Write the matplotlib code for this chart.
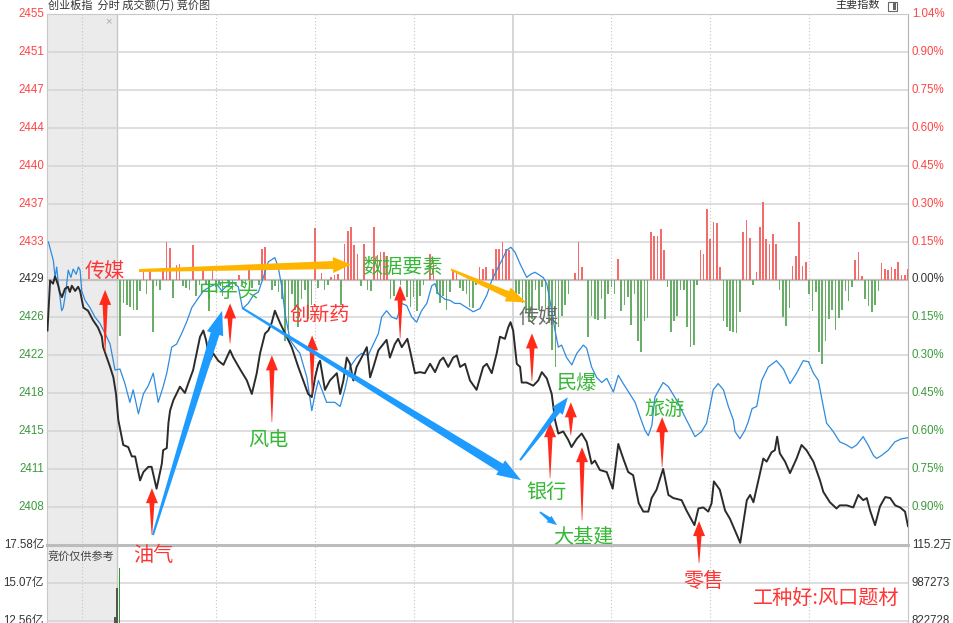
import numpy as np
import matplotlib
matplotlib.use("Agg")
import matplotlib.pyplot as plt
from matplotlib.patches import Polygon, Rectangle

plt.rcParams['font.family'] = ['Liberation Sans', 'Noto Sans CJK SC', 'DejaVu Sans']
CJK = ['Noto Sans CJK SC', 'DejaVu Sans']

# ---- data ----
prev_close = 2429.4
step = prev_close * 0.0015   # one grid row = 0.15 %

left_labels = ['2408', '2411', '2415', '2418', '2422', '2426', '2429',
               '2433', '2437', '2440', '2444', '2447', '2451', '2455']
right_labels = ['0.90%', '0.75%', '0.60%', '0.45%', '0.30%', '0.15%', '0.00%',
                '0.15%', '0.30%', '0.45%', '0.60%', '0.75%', '0.90%', '1.04%']
label_rows = list(range(-6, 8))

# price line (minute index, price); negative minutes = call auction
price_line = [
    (-21.1, 2424.5), (-20.3, 2429.3), (-19.4, 2429.0), (-18.8, 2429.7), (-17.9, 2428.9),
    (-17.3, 2428.1), (-16.7, 2427.7), (-15.8, 2428.5), (-14.9, 2428.7), (-14.3, 2428.2),
    (-13.7, 2428.8), (-12.7, 2428.3), (-11.8, 2428.7), (-11.2, 2428.3), (-10.2, 2426.7),
    (-8.8, 2426.4), (-7.3, 2425.5), (-5.8, 2424.8), (-4.6, 2423.9), (-4.2, 2422.9),
    (-3.1, 2421.9), (-2.1, 2421.0), (-1.1, 2420.0), (-0.3, 2418.4), (0.4, 2415.9),
    (1.9, 2413.5), (3.4, 2413.3), (4.5, 2412.4), (5.5, 2412.4), (7.0, 2410.1),
    (8.0, 2410.9), (9.5, 2411.4), (10.5, 2411.4), (12.0, 2409.3), (13.6, 2411.7),
    (14.0, 2413.0), (15.1, 2413.2), (15.6, 2415.6), (16.1, 2416.8), (17.1, 2417.8),
    (19.1, 2419.1), (20.6, 2418.5), (21.6, 2419.4), (23.1, 2420.7), (25.2, 2423.9),
    (26.2, 2424.5), (27.0, 2423.6), (28.2, 2421.6), (29.2, 2422.3), (30.7, 2421.6),
    (32.3, 2421.2), (34.3, 2422.6), (35.3, 2421.9), (37.3, 2420.8), (39.4, 2419.7),
    (40.9, 2418.4), (42.4, 2420.4), (43.4, 2422.3), (44.9, 2424.2), (45.9, 2424.5),
    (46.9, 2425.2), (47.9, 2426.4), (49.5, 2425.2), (51.5, 2423.9), (53.0, 2422.9),
    (55.0, 2421.0), (56.5, 2419.7), (58.0, 2418.4), (59.1, 2418.1), (60.1, 2420.0),
    (61.1, 2421.3), (61.6, 2421.6), (63.1, 2418.8), (64.6, 2419.7), (66.7, 2420.4),
    (67.7, 2418.4), (68.7, 2419.7), (69.7, 2421.9), (70.7, 2421.3), (71.7, 2419.7),
    (72.7, 2421.0), (74.2, 2421.9), (75.8, 2422.9), (76.8, 2420.0), (77.8, 2421.0),
    (79.3, 2422.6), (80.8, 2423.2), (81.8, 2423.6), (82.8, 2421.9), (84.3, 2423.2),
    (85.3, 2423.7), (86.4, 2422.9), (88.1, 2423.7), (89.1, 2422.3), (90.4, 2420.4),
    (91.9, 2420.5), (93.4, 2420.4), (95.0, 2421.3), (96.5, 2420.5), (98.0, 2421.6),
    (99.0, 2421.9), (100.5, 2421.0), (102.0, 2421.9), (103.1, 2422.1), (104.1, 2421.0),
    (105.6, 2421.3), (107.1, 2419.7), (109.1, 2418.8), (111.1, 2421.0), (112.2, 2421.3),
    (113.7, 2420.4), (115.2, 2422.3), (116.2, 2423.9), (117.7, 2423.7), (118.7, 2424.8),
    (119.4, 2425.3), (120.2, 2424.5), (121.3, 2421.3), (122.3, 2421.0), (122.8, 2419.5),
    (124.3, 2419.5), (126.3, 2419.2), (127.8, 2419.7), (128.9, 2420.5), (130.4, 2419.9),
    (131.9, 2418.4), (132.9, 2415.9), (133.9, 2414.6), (135.4, 2414.8), (136.9, 2414.0),
    (137.9, 2413.3), (139.5, 2414.1), (141.0, 2414.6), (142.5, 2413.8), (144.0, 2411.7),
    (145.0, 2412.0), (146.5, 2411.1), (148.6, 2410.9), (150.4, 2409.3), (152.1, 2413.6),
    (153.6, 2412.2), (155.1, 2410.9), (156.6, 2410.6), (158.3, 2407.9), (159.7, 2407.1),
    (161.2, 2407.1), (162.2, 2408.4), (163.7, 2409.2), (165.7, 2411.2), (167.3, 2408.7),
    (168.8, 2408.4), (171.3, 2408.2), (172.8, 2407.2), (175.2, 2405.8), (176.4, 2407.4),
    (177.9, 2407.5), (179.4, 2407.1), (180.4, 2407.9), (181.1, 2410.0), (182.9, 2409.2),
    (184.5, 2407.2), (186.0, 2406.4), (189.1, 2404.1), (191.1, 2408.2), (192.1, 2408.7),
    (193.1, 2408.0), (194.6, 2410.1), (196.1, 2412.2), (197.1, 2411.9), (198.6, 2412.8),
    (199.6, 2413.0), (200.3, 2414.3), (201.1, 2412.7), (202.7, 2411.9), (204.2, 2410.8),
    (206.2, 2412.2), (207.7, 2413.5), (209.2, 2413.0), (211.3, 2411.9), (213.3, 2410.1),
    (214.3, 2409.0), (216.3, 2408.0), (218.3, 2407.4), (219.3, 2407.7), (221.4, 2407.7),
    (223.4, 2407.5), (224.9, 2408.7), (226.4, 2408.2), (227.5, 2408.4), (228.5, 2407.2),
    (230.0, 2405.8), (231.5, 2407.6), (233.1, 2408.5), (234.6, 2408.4), (236.1, 2407.7),
    (237.6, 2407.5), (239.1, 2407.1), (240.0, 2405.7),
]

# blue line (unweighted index)
blue_line = [
    (-20.8, 2433.0), (-19.3, 2431.2), (-18.8, 2429.6), (-18.3, 2430.6), (-17.8, 2429.0),
    (-16.8, 2426.4), (-16.3, 2426.7), (-15.5, 2428.3), (-14.8, 2430.3), (-14.0, 2429.6),
    (-13.3, 2430.4), (-12.4, 2429.9), (-11.7, 2430.6), (-11.2, 2430.3), (-10.7, 2428.3),
    (-9.7, 2427.4), (-8.2, 2426.7), (-6.7, 2425.8), (-5.2, 2425.2), (-3.6, 2424.2),
    (-2.1, 2423.2), (-0.6, 2420.7), (0.9, 2420.8), (2.4, 2419.4), (3.9, 2417.6),
    (4.9, 2418.8), (6.5, 2416.5), (8.0, 2418.4), (9.5, 2419.2), (11.0, 2420.4),
    (12.5, 2417.6), (14.0, 2419.1), (15.1, 2420.4), (16.6, 2422.9), (18.1, 2423.2),
    (19.6, 2424.2), (21.1, 2425.3), (22.7, 2426.7), (24.2, 2427.4), (26.2, 2428.3),
    (28.2, 2428.7), (30.2, 2429.0), (31.8, 2428.3), (33.3, 2428.8), (35.3, 2429.1),
    (36.8, 2428.7), (38.1, 2426.6), (39.8, 2427.1), (41.4, 2427.9), (42.9, 2428.2),
    (44.4, 2429.6), (45.9, 2431.1), (47.9, 2431.5), (48.9, 2430.6), (50.0, 2428.7),
    (51.0, 2426.1), (52.5, 2423.6), (54.0, 2422.9), (55.5, 2422.3), (57.6, 2420.0),
    (59.1, 2416.8), (60.1, 2418.4), (61.1, 2419.7), (63.6, 2417.6), (66.1, 2417.6),
    (67.7, 2417.2), (69.2, 2418.9), (70.7, 2421.0), (72.7, 2421.9), (74.2, 2422.3),
    (76.2, 2422.1), (77.8, 2423.2), (79.3, 2424.2), (80.3, 2425.8), (81.8, 2426.4),
    (83.3, 2425.8), (84.9, 2425.6), (86.4, 2427.1), (87.9, 2426.9), (89.4, 2425.8),
    (90.9, 2425.3), (92.4, 2426.4), (94.0, 2427.1), (95.5, 2428.8), (96.5, 2429.0),
    (97.5, 2428.0), (99.5, 2427.5), (101.0, 2427.4), (102.5, 2427.1), (104.1, 2427.1),
    (106.1, 2426.7), (108.1, 2426.3), (110.1, 2426.6), (112.2, 2427.9), (113.7, 2429.3),
    (115.2, 2430.3), (116.7, 2431.2), (118.2, 2432.2), (119.5, 2432.5), (120.8, 2432.0),
    (122.3, 2430.9), (124.3, 2429.6), (125.5, 2429.9), (126.8, 2430.1), (128.3, 2429.8),
    (129.3, 2429.6), (130.4, 2429.0), (131.9, 2426.4), (132.9, 2424.5), (133.9, 2422.9),
    (134.9, 2423.1), (136.4, 2421.9), (138.0, 2421.2), (139.5, 2422.3), (141.5, 2423.1),
    (142.5, 2422.8), (144.0, 2421.0), (145.5, 2420.0), (147.1, 2419.5), (148.6, 2419.9),
    (150.6, 2418.6), (152.1, 2420.2), (153.6, 2419.4), (155.6, 2418.4), (157.2, 2417.6),
    (158.7, 2416.2), (160.2, 2414.9), (161.2, 2414.4), (162.3, 2415.4), (163.2, 2418.1),
    (165.7, 2419.5), (167.3, 2419.1), (169.8, 2417.8), (172.8, 2415.9), (175.4, 2414.3),
    (177.4, 2414.8), (178.9, 2415.6), (180.9, 2418.8), (182.4, 2419.4), (184.0, 2418.8),
    (185.5, 2417.2), (187.0, 2415.9), (187.5, 2414.8), (189.0, 2414.1), (190.5, 2414.9),
    (191.5, 2415.7), (192.7, 2417.0), (194.1, 2417.2), (195.6, 2419.7), (197.6, 2421.0),
    (200.1, 2421.6), (202.2, 2420.8), (204.2, 2419.4), (206.2, 2420.4), (208.2, 2421.6),
    (209.8, 2421.5), (211.3, 2420.4), (212.8, 2419.7), (214.3, 2417.2), (215.3, 2415.6),
    (217.3, 2414.8), (219.3, 2413.8), (221.4, 2413.5), (222.9, 2413.2), (224.4, 2413.5),
    (226.4, 2414.3), (227.9, 2413.5), (229.5, 2412.5), (230.5, 2412.2), (232.0, 2412.5),
    (234.0, 2413.0), (236.0, 2413.8), (238.1, 2414.1), (240.0, 2414.2),
]

# red/green bars around the zero line, one per minute, in 0.01 %
bar_bp = [
    0, -22.5, -9.1, -9.9, -10.7, -12.2, -11.9, -4.7, 3.2, -5.9,
    4.3, -20.9, -2.4, -4.3, 4.7, 15.0, 12.6, -7.5, 5.9, 6.3,
    -2.4, -3.2, -4.0, 13.8, -6.7, -2.0, 3.6, -2.0, -12.6, 5.5,
    -2.8, -2.0, -6.7, 0, -2.4, -4.0, 0, 1.6, -2.0, -2.8,
    5.9, -3.2, 0, -2.0, 11.9, 13.0, 0, -4.0, -2.4, -5.1,
    -7.9, -24.5, -19.8, -5.9, -11.9, -18.6, -7.9, -4.0, -15.8, -9.9,
    20.5, -3.2, 2.4, -4.0, -2.0, 0.8, 1.6, 2.0, -9.9, 14.2,
    19.0, 20.9, 13.8, 9.9, -2.4, 14.2, -4.0, -4.7, 20.9, 9.5,
    10.7, 10.7, 9.1, -7.9, -6.7, 0, -2.0, 0, -7.1, -10.7,
    -7.1, -12.6, -6.7, -2.0, 0, 9.9, 7.5, -5.9, -9.1, -6.7,
    -12.2, -5.1, 3.2, 3.2, -3.2, -4.7, -5.9, -10.7, -11.1, -2.0,
    5.1, 4.3, 5.1, 0, 4.0, 11.9, 11.9, 15.0, 11.9, 11.5,
    0, -7.1, -5.9, -9.1, -13.0, -17.0, -15.8, -4.0, -11.9, -2.8,
    -11.9, -17.4, -27.7, -34.8, -18.6, -14.6, -9.9, -5.9, 0, 2.4,
    15.0, 5.1, 0, -22.9, -14.6, -15.8, -16.2, -7.9, -15.8, -5.9,
    -2.8, -5.9, 8.3, -12.6, -9.9, -7.1, -17.8, -5.9, -24.5, -28.8,
    -16.6, -15.4, 18.6, 17.4, 17.4, 19.8, 11.5, -2.8, -20.9, -16.6,
    -14.6, -4.3, -4.0, -18.6, -26.5, -26.1, -2.0, 11.5, 9.9, 28.0,
    16.2, 22.9, 22.5, 5.1, -16.6, -18.6, -20.5, -20.9, -21.3, -13.0,
    18.6, 23.7, 16.6, -2.0, 2.8, 20.9, 30.8, 16.2, 14.2, 17.8,
    14.2, -4.3, -15.0, -18.2, -11.1, 5.5, 9.1, 22.9, 5.5, 7.1,
    -5.9, -12.6, -5.1, -28.8, -33.6, -24.5, -15.8, -11.9, -20.1, -15.4,
    -12.2, -4.7, -8.7, -2.8, 7.9, 10.7, 1.2, -7.9, -10.3, -13.0,
    -9.9, -4.7, 6.7, 4.0, 3.6, 5.1, 4.0, 7.1, 1.6, 1.6,
    4.0,
]

# turnover panel (亿)
vol_labels_left = ['17.58亿', '15.07亿', '12.56亿']
vol_labels_right = ['115.2万', '987273', '822728']
vol_levels = [17.58, 15.07, 12.56]
vol_t = [-0.6, -0.06, 0.76]
vol_val = [12.82, 14.74, 16.06]
vol_colors = ['#555555', '#555555', '#2e9a2e']

# ---- colours ----
RED = '#ff4545'
GREEN = '#3c9a3c'
DARK = '#333333'
ARROW_RED = '#ff2a1a'
ARROW_BLUE = '#1e9bff'
ARROW_ORANGE = '#ffb400'
TXT_GREEN = '#35b835'
TXT_RED = '#ff3535'

W, H = 954, 623
fig = plt.figure(figsize=(W / 100, H / 100), dpi=100)
fig.patch.set_facecolor('white')

ax = fig.add_axes([47 / W, 78 / H, 861 / W, 531 / H])
axv = fig.add_axes([47 / W, (623 - 697) / H, 861 / W, 152 / H])
ax.set_zorder(3)

t_lo, t_hi = -21.24, 240
for a in (ax, axv):
    a.set_xlim(t_lo, t_hi)
    a.set_xticks([])
    a.set_yticks([])
    a.set_facecolor('white')
    a.axvspan(t_lo, 0, color='#ebebeb', zorder=0, lw=0)
    a.axvline(-10.6, color='#c4c4c4', lw=0.8, ls=(0, (1, 2)), zorder=1)
    a.axvline(0, color='#c8c8c8', lw=1.0, zorder=1)
    a.axvline(120, color='#cfcfcf', lw=1.2, zorder=1)
    for tv in [30, 60, 90, 150, 180, 210]:
        a.axvline(tv, color='#c4c4c4', lw=0.8, ls=(0, (1, 2)), zorder=1)

ax.set_ylim(prev_close - 7 * step, prev_close + 7 * step)
for k in range(-6, 7):
    if k == 0:
        ax.axhline(prev_close, color='#c2c2c2', lw=1.6, zorder=1)
    else:
        ax.axhline(prev_close + k * step, color='#d4d4d4', lw=1.1, zorder=1)

for side in ['left', 'top']:
    ax.spines[side].set_color('#c8c8c8')
ax.spines['right'].set_color('#b4b4b4')
ax.spines['bottom'].set_color('#bcbcbc')
ax.spines['bottom'].set_linewidth(2.2)

# tick labels
for k, ll, rl in zip(label_rows, left_labels, right_labels):
    c = RED if k > 0 else (DARK if k == 0 else GREEN)
    y = prev_close + k * step
    ax.text(-0.0035, y, ll, transform=ax.get_yaxis_transform(), ha='right',
            va='center', fontsize=8.3, color=c)
    ax.text(1.0046, y, rl, transform=ax.get_yaxis_transform(), ha='left',
            va='center', fontsize=8.3, color=c)

# bars around zero
bt = np.arange(len(bar_bp))
bv = np.array(bar_bp) / 10000 * prev_close
ax.bar(bt, bv, bottom=prev_close, width=0.5,
       color=np.where(bv > 0, '#f36c6c', '#69ad69'), zorder=2, lw=0)

# lines
bl = np.array(blue_line)
ax.plot(bl[:, 0], bl[:, 1], color='#2e8be0', lw=0.9, zorder=3)
pl = np.array(price_line)
ax.plot(pl[:, 0], pl[:, 1], color='#2b2b2b', lw=1.4, zorder=4)

ax.text(-2.7, prev_close + 6.8 * step, '×', color='#aaaaaa', fontsize=8,
        ha='center', va='center')

# turnover panel
axv.set_ylim(7.54, 17.58)
for v in vol_levels[1:] + [10.05]:
    axv.axhline(v, color='#d4d4d4', lw=1.1, zorder=1)
for side in ['top', 'bottom']:
    axv.spines[side].set_visible(False)
for side in ['left', 'right']:
    axv.spines[side].set_color('#c8c8c8')
axv.bar(vol_t, vol_val, width=0.5, color=vol_colors, zorder=2, lw=0)
for v, ll, rl in zip(vol_levels, vol_labels_left, vol_labels_right):
    axv.text(-0.0035, v, ll, transform=axv.get_yaxis_transform(), ha='right',
             va='center', fontsize=8.3, color=DARK, family=['Liberation Sans'] + CJK)
    axv.text(1.0046, v, rl, transform=axv.get_yaxis_transform(), ha='left',
             va='center', fontsize=8.3, color=DARK, family=['Liberation Sans'] + CJK)
axv.text(t_lo + 0.3, 16.85, '竞价仅供参考', fontsize=8, color='#444444',
         family=CJK, ha='left', va='center')

# header
fig.text(48 / W, 1 - 5 / H, '创业板指  分时 成交额(万) 竞价图', fontsize=8,
         color=DARK, family=CJK, ha='left', va='center')
fig.text(880 / W, 1 - 5 / H, '主要指数', fontsize=8, color=DARK, family=CJK,
         ha='right', va='center')
fig.patches.append(Rectangle((888 / W, 1 - 11 / H), 9 / W, 9 / H,
                             transform=fig.transFigure, fill=False,
                             ec='#666666', lw=0.8))
fig.patches.append(Rectangle((893 / W, 1 - 10 / H), 3 / W, 7 / H,
                             transform=fig.transFigure, fc='#666666', lw=0))


def arrow(tail, head, color, w0, w1, hw, hl):
    # tapered shaft (w0 at tail -> w1 at head base) plus triangular head, sizes in px
    tr = ax.transData
    p0 = tr.transform(tail)
    p1 = tr.transform(head)
    d = p1 - p0
    u = d / np.hypot(*d)
    n = np.array([-u[1], u[0]])
    base = p1 - u * hl
    pts = [p0 + n * w0 / 2, base + n * w1 / 2, base + n * hw / 2, p1,
           base - n * hw / 2, base - n * w1 / 2, p0 - n * w0 / 2]
    ax.add_patch(Polygon(tr.inverted().transform(pts), closed=True, fc=color,
                         lw=0, zorder=6, clip_on=False))


# red up arrows (tail -> head)
red_arrows = [
    ((-3.6, 2422.4), (-3.6, 2428.4)),
    ((10.6, 2404.85), (10.6, 2409.35)),
    ((34.3, 2423.26), (34.3, 2427.1)),
    ((47.0, 2415.69), (47.0, 2422.11)),
    ((59.2, 2418.28), (59.2, 2424.03)),
    ((85.9, 2423.74), (85.9, 2428.82)),
    ((125.9, 2419.62), (125.9, 2424.22)),
    ((131.4, 2410.32), (131.4, 2415.69)),
    ((137.7, 2414.44), (137.7, 2417.6)),
    ((141.1, 2406.29), (141.1, 2413.29)),
    ((165.4, 2411.37), (165.4, 2416.17)),
    ((176.6, 2402.16), (176.6, 2406.19)),
]
for tail, head in red_arrows:
    arrow(tail, head, ARROW_RED, 0.5, 5, 12, 15)

arrow((10.9, 2404.85), (31.9, 2426.4), ARROW_BLUE, 2, 9, 17, 24)
arrow((38.2, 2426.62), (122.6, 2410.12), ARROW_BLUE, 2, 9, 17, 24)
arrow((122.3, 2412.04), (136.8, 2418.08), ARROW_BLUE, 2, 6, 13, 17)
arrow((128.3, 2407.06), (133.5, 2405.81), ARROW_BLUE, 1.5, 4, 8, 10)
arrow((6.7, 2430.26), (71.0, 2430.84), ARROW_ORANGE, 3, 8, 16, 18)
arrow((101.3, 2430.36), (124.1, 2427.19), ARROW_ORANGE, 2, 7, 15, 20)

# sector labels
labels = [
    ('传媒', -3.6, 2430.2, TXT_RED),
    ('数据要素', 86.5, 2430.6, TXT_GREEN),
    ('中字头', 33.7, 2428.25, TXT_GREEN),
    ('创新药', 61.6, 2425.95, TXT_RED),
    ('传媒', 128.0, 2425.75, '#6a6a6a'),
    ('民爆', 139.6, 2419.4, TXT_GREEN),
    ('旅游', 166.0, 2416.9, TXT_GREEN),
    ('风电', 45.8, 2413.96, TXT_GREEN),
    ('银行', 130.2, 2408.97, TXT_GREEN),
    ('大基建', 141.4, 2404.56, TXT_GREEN),
    ('油气', 10.9, 2402.84, TXT_RED),
    ('零售', 177.8, 2400.4, TXT_RED),
    ('工种好:风口题材', 215.1, 2398.8, TXT_RED),
]
for s, tx, ty, c in labels:
    ax.text(tx, ty, s, color=c, fontsize=14.5, family=CJK, ha='center',
            va='center', zorder=7, clip_on=False)

fig.savefig('out.png', dpi=100)
